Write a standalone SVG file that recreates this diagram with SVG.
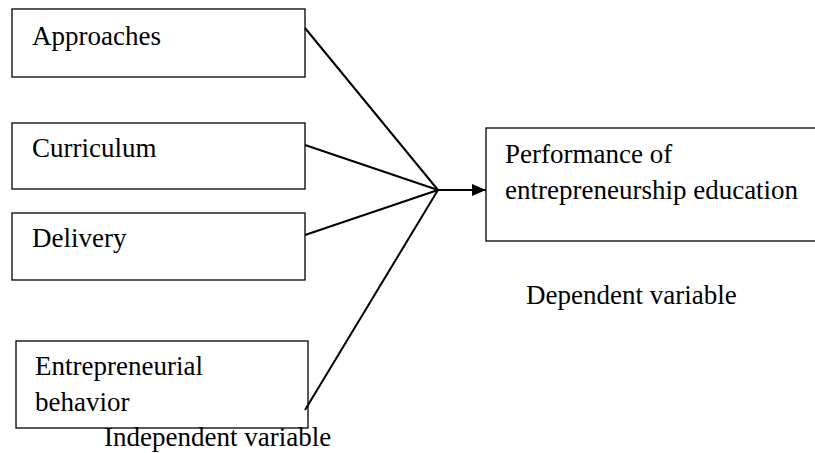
<svg xmlns="http://www.w3.org/2000/svg" width="815" height="453" viewBox="0 0 815 453">
<style>
.box{fill:#fff;stroke:#000;stroke-width:1.3}
.t{font-family:"Liberation Serif","Times New Roman",serif;font-size:27px;fill:#000}
.c{stroke:#000;stroke-width:2;fill:none}
</style>
<defs>
<marker id="ah" markerWidth="14" markerHeight="12" refX="14" refY="6" orient="auto" markerUnits="userSpaceOnUse">
<path d="M0,0 L14,6 L0,12 Z" fill="#000"/>
</marker>
</defs>
<rect width="815" height="453" fill="#fff"/>
<g id="approaches"><rect class="box" x="12" y="9" width="293" height="68"/><text class="t" x="32" y="45">Approaches</text></g>
<g id="curriculum"><rect class="box" x="12" y="123" width="293" height="66"/><text class="t" x="32" y="157">Curriculum</text></g>
<g id="delivery"><rect class="box" x="12" y="213" width="293" height="67"/><text class="t" x="32" y="247">Delivery</text></g>
<g id="behavior"><rect class="box" x="16" y="341" width="292" height="87"/><text class="t" x="35" y="375">Entrepreneurial</text><text class="t" x="35" y="411">behavior</text></g>
<g id="performance"><rect class="box" x="486" y="128" width="340" height="113"/><text class="t" x="505" y="163">Performance of</text><text class="t" x="505" y="199">entrepreneurship education</text></g>
<g id="labels"><text class="t" x="104" y="446">Independent variable</text><text class="t" x="526" y="304">Dependent variable</text></g>
<g id="connectors">
<line class="c" x1="305" y1="28" x2="438" y2="190"/>
<line class="c" x1="305" y1="145" x2="438" y2="190"/>
<line class="c" x1="305" y1="235" x2="438" y2="190"/>
<line class="c" x1="305" y1="410" x2="438" y2="190"/>
<line class="c" x1="436" y1="190" x2="486" y2="190" marker-end="url(#ah)"/>
</g>
</svg>
